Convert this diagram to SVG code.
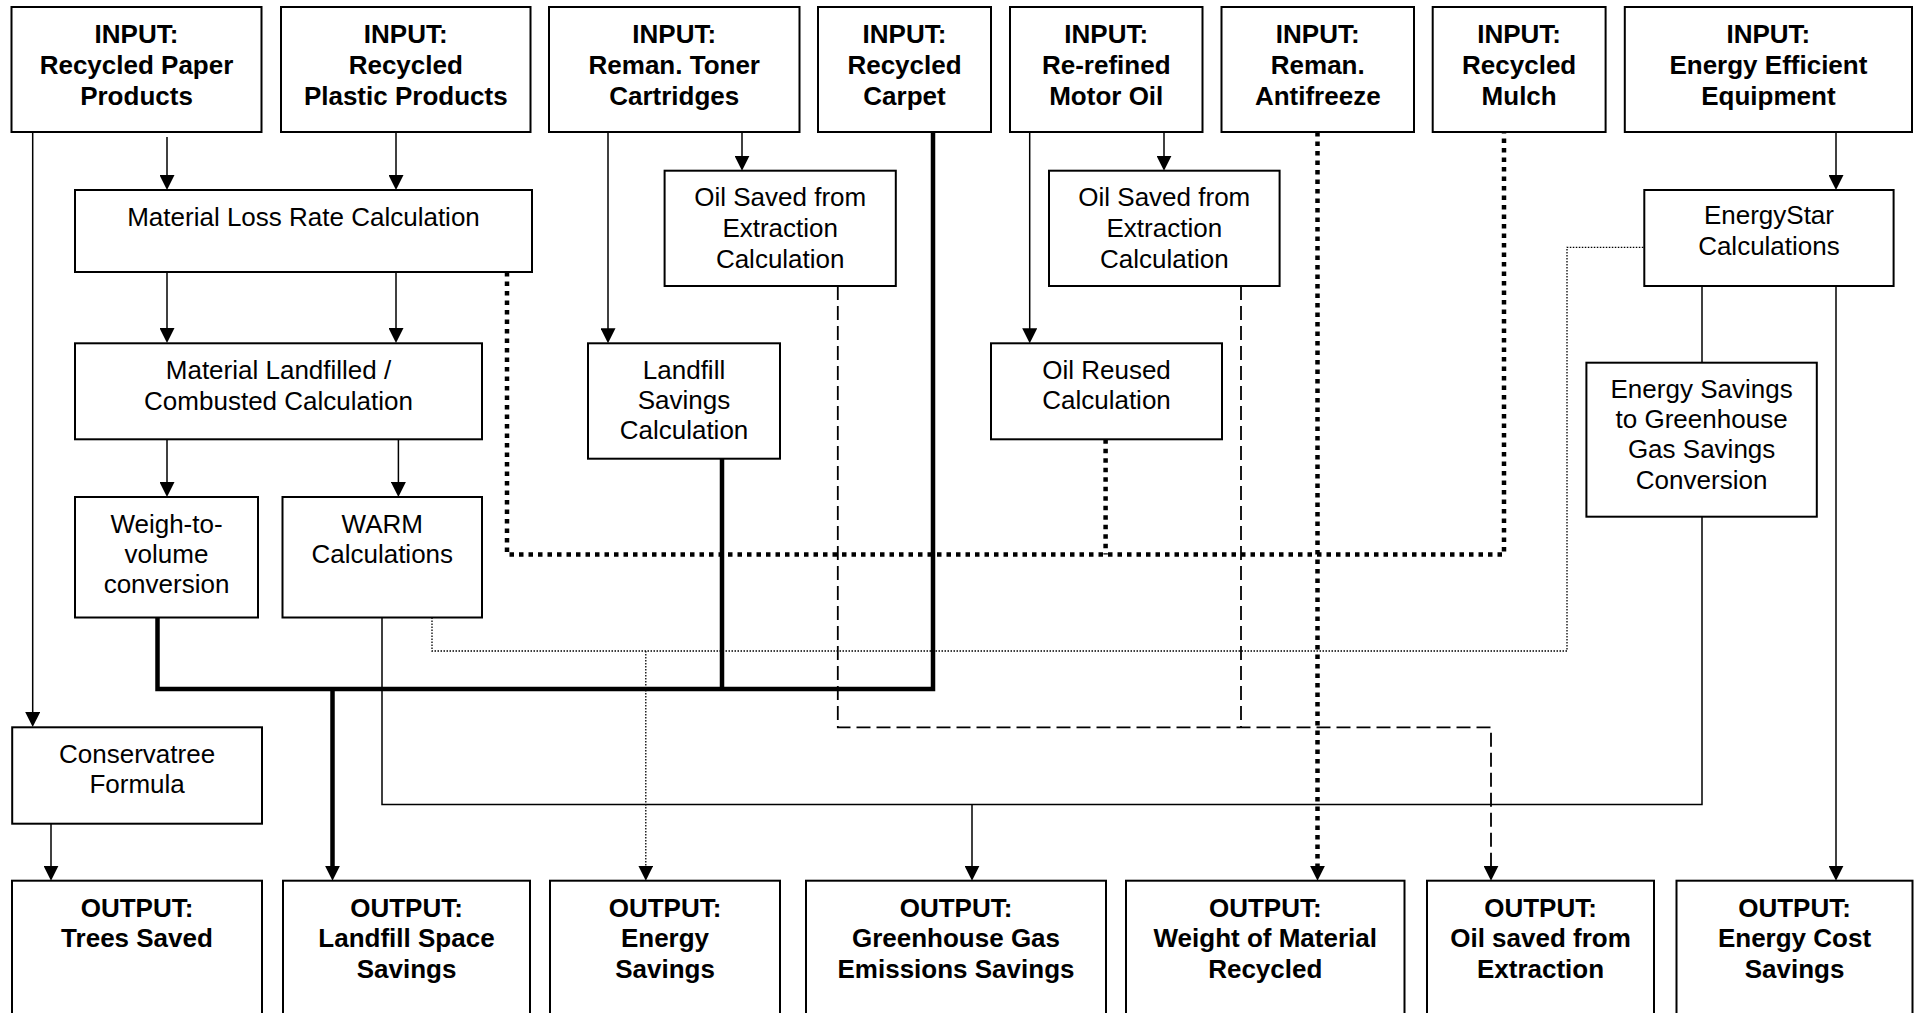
<svg xmlns="http://www.w3.org/2000/svg" width="1917" height="1013" viewBox="0 0 1917 1013">
<style>
.box{fill:#fff;stroke:#000;stroke-width:2}
text{font-family:"Liberation Sans",Arial,sans-serif;font-size:26px;fill:#000;text-anchor:middle}
.b{font-weight:bold}
.c{fill:none;stroke:#000}
.thin{stroke-width:1.5}
.thick{stroke-width:4.5}
.tdot{stroke-width:4.5;stroke-dasharray:4.5 5}
.dash{stroke-width:1.8;stroke-dasharray:14 6}
.dot{stroke-width:1.3;stroke-dasharray:1.5 1.5}
</style>
<defs>
<marker id="ar" viewBox="0 0 15 15" refX="7" refY="7.5" markerWidth="15" markerHeight="15" orient="auto" markerUnits="userSpaceOnUse">
<path d="M0,0 L15,7.5 L0,15 z" fill="#000" stroke="none"/>
</marker>
</defs>
<rect width="1917" height="1013" fill="#fff"/>
<g id="connectors">
<path class="c thin" d="M32.7,132 V719" marker-end="url(#ar)"/>
<path class="c thin" d="M167,137 V182" marker-end="url(#ar)"/>
<path class="c thin" d="M396,132 V182" marker-end="url(#ar)"/>
<path class="c thin" d="M167,272 V335" marker-end="url(#ar)"/>
<path class="c thin" d="M396,272 V335" marker-end="url(#ar)"/>
<path class="c thin" d="M167,439.3 V489" marker-end="url(#ar)"/>
<path class="c thin" d="M398.4,439.3 V489" marker-end="url(#ar)"/>
<path class="c thin" d="M608,132 V335.3" marker-end="url(#ar)"/>
<path class="c thin" d="M742,132 V162.7" marker-end="url(#ar)"/>
<path class="c thin" d="M1029.7,132 V335.3" marker-end="url(#ar)"/>
<path class="c thin" d="M1164,132 V162.7" marker-end="url(#ar)"/>
<path class="c thin" d="M1836,132 V182" marker-end="url(#ar)"/>
<path class="c thin" d="M1702,286 V362.7"/>
<path class="c thin" d="M1836,286 V872.7" marker-end="url(#ar)"/>
<path class="c thin" d="M382,617.5 V804.5 H1702 V516.7"/>
<path class="c thin" d="M972,804.5 V872.7" marker-end="url(#ar)"/>
<path class="c thin" d="M51,823.7 V872.7" marker-end="url(#ar)"/>
<path class="c thick" d="M157.5,617.5 V689 H933 V132"/>
<path class="c thick" d="M722,458.7 V689"/>
<path class="c thick" d="M332.5,689 V872.7" marker-end="url(#ar)"/>
<path class="c tdot" d="M507,272 V554.5 H1504 V132"/>
<path class="c tdot" d="M1105.6,439.3 V554.5"/>
<path class="c tdot" d="M1317.5,132 V872.7" marker-end="url(#ar)"/>
<path class="c dash" d="M837.8,286 V727.3 H1491 V872.7" marker-end="url(#ar)"/>
<path class="c dash" d="M1241,286 V727.3"/>
<path class="c dot" d="M432,617.5 V651 H1567 V247.3 H1644.3"/>
<path class="c dot" d="M645.8,651 V872.7" marker-end="url(#ar)"/>
</g>
<g id="in-paper"><rect class="box" x="11.5" y="7" width="250" height="125"/><text class="b" x="136.5" y="43">INPUT:</text><text class="b" x="136.5" y="74">Recycled Paper</text><text class="b" x="136.5" y="105">Products</text></g>
<g id="in-plastic"><rect class="box" x="281" y="7" width="249.5" height="125"/><text class="b" x="405.75" y="43">INPUT:</text><text class="b" x="405.75" y="74">Recycled</text><text class="b" x="405.75" y="105">Plastic Products</text></g>
<g id="in-toner"><rect class="box" x="549" y="7" width="250.5" height="125"/><text class="b" x="674.25" y="43">INPUT:</text><text class="b" x="674.25" y="74">Reman. Toner</text><text class="b" x="674.25" y="105">Cartridges</text></g>
<g id="in-carpet"><rect class="box" x="818" y="7" width="173" height="125"/><text class="b" x="904.5" y="43">INPUT:</text><text class="b" x="904.5" y="74">Recycled</text><text class="b" x="904.5" y="105">Carpet</text></g>
<g id="in-oil"><rect class="box" x="1010" y="7" width="192.5" height="125"/><text class="b" x="1106.25" y="43">INPUT:</text><text class="b" x="1106.25" y="74">Re-refined</text><text class="b" x="1106.25" y="105">Motor Oil</text></g>
<g id="in-antifreeze"><rect class="box" x="1221.5" y="7" width="192.5" height="125"/><text class="b" x="1317.75" y="43">INPUT:</text><text class="b" x="1317.75" y="74">Reman.</text><text class="b" x="1317.75" y="105">Antifreeze</text></g>
<g id="in-mulch"><rect class="box" x="1432.7" y="7" width="172.9" height="125"/><text class="b" x="1519.15" y="43">INPUT:</text><text class="b" x="1519.15" y="74">Recycled</text><text class="b" x="1519.15" y="105">Mulch</text></g>
<g id="in-energy"><rect class="box" x="1624.8" y="7" width="287.2" height="125"/><text class="b" x="1768.4" y="43">INPUT:</text><text class="b" x="1768.4" y="74">Energy Efficient</text><text class="b" x="1768.4" y="105">Equipment</text></g>
<g id="loss-rate"><rect class="box" x="75" y="190" width="457" height="82"/><text x="303.5" y="226">Material Loss Rate Calculation</text></g>
<g id="landfilled"><rect class="box" x="75" y="343.3" width="407" height="96"/><text x="278.5" y="379">Material Landfilled /</text><text x="278.5" y="410">Combusted Calculation</text></g>
<g id="weigh"><rect class="box" x="75" y="497" width="183" height="120.5"/><text x="166.5" y="532.7">Weigh-to-</text><text x="166.5" y="562.7">volume</text><text x="166.5" y="593.3">conversion</text></g>
<g id="warm"><rect class="box" x="282.5" y="497" width="199.5" height="120.5"/><text x="382.25" y="532.5">WARM</text><text x="382.25" y="562.5">Calculations</text></g>
<g id="oil-saved-1"><rect class="box" x="664.6" y="170.7" width="231.2" height="115.3"/><text x="780.2" y="205.7">Oil Saved from</text><text x="780.2" y="236.7">Extraction</text><text x="780.2" y="267.7">Calculation</text></g>
<g id="oil-saved-2"><rect class="box" x="1049" y="170.7" width="230.6" height="115.3"/><text x="1164.3" y="205.7">Oil Saved from</text><text x="1164.3" y="236.7">Extraction</text><text x="1164.3" y="267.7">Calculation</text></g>
<g id="landfill-savings"><rect class="box" x="588" y="343.3" width="192" height="115.4"/><text x="684" y="379">Landfill</text><text x="684" y="409.3">Savings</text><text x="684" y="439.3">Calculation</text></g>
<g id="oil-reused"><rect class="box" x="991" y="343.3" width="231" height="96"/><text x="1106.5" y="379">Oil Reused</text><text x="1106.5" y="409.3">Calculation</text></g>
<g id="energystar"><rect class="box" x="1644.3" y="190" width="249.3" height="96"/><text x="1768.95" y="224.3">EnergyStar</text><text x="1768.95" y="255">Calculations</text></g>
<g id="es-ghg"><rect class="box" x="1586.4" y="362.7" width="230.4" height="154"/><text x="1701.6" y="397.7">Energy Savings</text><text x="1701.6" y="428.3">to Greenhouse</text><text x="1701.6" y="458.3">Gas Savings</text><text x="1701.6" y="489.3">Conversion</text></g>
<g id="conservatree"><rect class="box" x="12.2" y="727.3" width="249.8" height="96.4"/><text x="137.1" y="762.7">Conservatree</text><text x="137.1" y="793.3">Formula</text></g>
<g id="out-trees"><rect class="box" x="12" y="880.7" width="250" height="140"/><text class="b" x="137" y="916.7">OUTPUT:</text><text class="b" x="137" y="947.3">Trees Saved</text></g>
<g id="out-landfill"><rect class="box" x="283" y="880.7" width="247" height="140"/><text class="b" x="406.5" y="916.7">OUTPUT:</text><text class="b" x="406.5" y="947.3">Landfill Space</text><text class="b" x="406.5" y="977.7">Savings</text></g>
<g id="out-energy"><rect class="box" x="550" y="880.7" width="230" height="140"/><text class="b" x="665" y="916.7">OUTPUT:</text><text class="b" x="665" y="947.3">Energy</text><text class="b" x="665" y="977.7">Savings</text></g>
<g id="out-ghg"><rect class="box" x="806" y="880.7" width="300" height="140"/><text class="b" x="956" y="916.7">OUTPUT:</text><text class="b" x="956" y="947.3">Greenhouse Gas</text><text class="b" x="956" y="977.7">Emissions Savings</text></g>
<g id="out-weight"><rect class="box" x="1126" y="880.7" width="278.5" height="140"/><text class="b" x="1265.25" y="916.7">OUTPUT:</text><text class="b" x="1265.25" y="947.3">Weight of Material</text><text class="b" x="1265.25" y="977.7">Recycled</text></g>
<g id="out-oil"><rect class="box" x="1427" y="880.7" width="227" height="140"/><text class="b" x="1540.5" y="916.7">OUTPUT:</text><text class="b" x="1540.5" y="947.3">Oil saved from</text><text class="b" x="1540.5" y="977.7">Extraction</text></g>
<g id="out-cost"><rect class="box" x="1676.5" y="880.7" width="236" height="140"/><text class="b" x="1794.5" y="916.7">OUTPUT:</text><text class="b" x="1794.5" y="947.3">Energy Cost</text><text class="b" x="1794.5" y="977.7">Savings</text></g>
</svg>
